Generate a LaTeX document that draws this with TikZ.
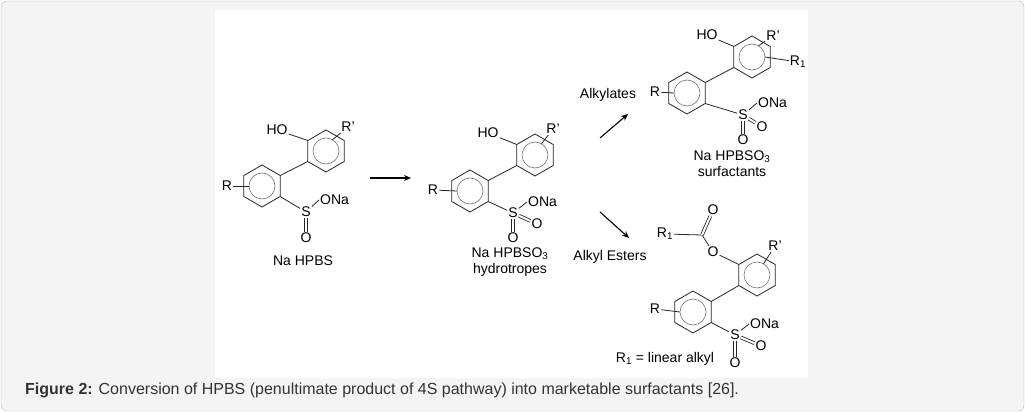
\documentclass[tikz,border=0pt]{standalone}
\usepackage{fontspec}
\setmainfont{Liberation Sans}
\usetikzlibrary{calc}
\usetikzlibrary{positioning}
\usetikzlibrary{arrows.meta}

\tikzset{
  bond/.style={line width=0.8pt, black!85},
  dbl/.style={bond, double, double distance=2pt},
  aromatic/.style={line width=0.6pt, black!55},
  atom/.style={inner sep=1pt, font=\fontsize{14}{16}\selectfont},
  lbl/.style={inner sep=0pt, font=\fontsize{14}{16}\selectfont, align=center},
  reaction/.style={-{Stealth[length=7pt,width=6pt]}, line width=1.1pt},
  ring/.pic={
    \draw[bond] (30:21) -- (90:21) -- (150:21) -- (210:21) -- (270:21) -- (330:21) -- cycle;
    \draw[aromatic] (0,0) circle (13);
    \foreach \a in {30,90,150,210,270,330} \coordinate (-v\a) at (\a:21);
    \foreach \a in {0,60,180} \coordinate (-c\a) at (\a:13);
  }
}

\begin{document}
\begin{tikzpicture}[x=1pt, y=1pt]
    \useasboundingbox (0,0) rectangle (1025,-412);
    % frame
    \draw[gray!55, fill=gray!9, rounded corners=6pt] (1,-1) rectangle (1024,-411);
    \fill[white] (215,-10) rectangle (808,-378);

    % Na HPBS
    \pic (l1) at (262,-186) {ring};
    \pic (u1) at (326,-151) {ring};
    \draw[bond] (l1-v30) -- (u1-v210);
    \node[atom] (ho1) at (277,-130) {HO};
    \node[atom] (rp1) at (348,-127) {R'};
    \node[atom] (r1) at (227,-186) {R};
    \node[atom] (s1) at (306,-212) {S};
    \node[atom, anchor=west] (ona1) at (319,-200) {ONa};
    \node[atom] (od1) at (306,-238) {O};
    \draw[bond] (u1-v150) -- (ho1);
    \draw[bond] (u1-c60) -- (rp1);
    \draw[bond] (l1-c180) -- (r1);
    \draw[bond] (l1-v330) -- (s1);
    \draw[bond] (s1) -- (ona1.west);
    \draw[dbl] (s1) -- (od1);
    \node[lbl] (name1) at (303,-261) {Na HPBS};

    % Na HPBSO3 hydrotropes
    \pic (l2) at (470,-191) {ring};
    \pic (u2) at (535,-155) {ring};
    \draw[bond] (l2-v30) -- (u2-v210);
    \node[atom] (ho2) at (488,-133) {HO};
    \node[atom] (rp2) at (553,-129) {R'};
    \node[atom] (r2) at (433,-190) {R};
    \node[atom] (s2) at (513,-213) {S};
    \node[atom, anchor=west] (ona2) at (527,-202) {ONa};
    \node[atom] (or2) at (537,-224) {O};
    \node[atom] (od2) at (513,-238) {O};
    \draw[bond] (u2-v150) -- (ho2);
    \draw[bond] (u2-c60) -- (rp2);
    \draw[bond] (l2-c180) -- (r2);
    \draw[bond] (l2-v330) -- (s2);
    \draw[bond] (s2) -- (ona2.west);
    \draw[dbl] (s2) -- (or2);
    \draw[dbl] (s2) -- (od2);
    \node[lbl] (name2) at (510,-262) {Na HPBSO\textsubscript{3}\\hydrotropes};

    % Na HPBSO3 surfactants
    \pic (l3) at (687,-93) {ring};
    \pic (u3) at (752,-57) {ring};
    \draw[bond] (l3-v30) -- (u3-v210);
    \node[atom] (ho3) at (707,-35) {HO};
    \node[atom] (rp3) at (773,-36) {R'};
    \node[atom] (ra3) at (798,-62) {R\textsubscript{1}};
    \node[atom] (r3) at (655,-92) {R};
    \node[atom] (s3) at (743,-115) {S};
    \node[atom, anchor=west] (ona3) at (757,-103) {ONa};
    \node[atom] (or3) at (762,-127) {O};
    \node[atom] (od3) at (743,-140) {O};
    \draw[bond] (u3-v150) -- (ho3);
    \draw[bond] (u3-c60) -- (rp3);
    \draw[bond] (u3-c0) -- (ra3);
    \draw[bond] (l3-c180) -- (r3);
    \draw[bond] (l3-v330) -- (s3);
    \draw[bond] (s3) -- (ona3.west);
    \draw[dbl] (s3) -- (or3);
    \draw[dbl] (s3) -- (od3);
    \node[lbl] (name3) at (732,-164) {Na HPBSO\textsubscript{3}\\surfactants};

    % alkyl ester
    \pic (l4) at (693,-312) {ring};
    \pic (u4) at (757,-275) {ring};
    \draw[bond] (l4-v30) -- (u4-v210);
    \node[atom] (oe4) at (713,-252) {O};
    \coordinate (c4) at (702,-235);
    \node[atom] (ok4) at (713,-210) {O};
    \node[atom] (ra4) at (665,-234) {R\textsubscript{1}};
    \node[atom] (rp4) at (775,-246) {R'};
    \node[atom] (r4) at (655,-309) {R};
    \node[atom] (s4) at (735,-335) {S};
    \node[atom, anchor=west] (ona4) at (749,-324) {ONa};
    \node[atom] (or4) at (761,-346) {O};
    \node[atom] (od4) at (735,-363) {O};
    \draw[bond] (u4-v150) -- (oe4);
    \draw[bond] (oe4) -- (c4) -- (ra4);
    \draw[dbl] (c4) -- (ok4);
    \draw[bond] (u4-c60) -- (rp4);
    \draw[bond] (l4-c180) -- (r4);
    \draw[bond] (l4-v330) -- (s4);
    \draw[bond] (s4) -- (ona4.west);
    \draw[dbl] (s4) -- (or4);
    \draw[dbl] (s4) -- (od4);
    \node[lbl] (note4) at (665,-359) {R\textsubscript{1} = linear alkyl};

    % reaction arrows
    \coordinate (a0) at (370,-178);
    \coordinate (a1) at (411,-178);
    \draw[reaction] (a0) -- (a1);
    \coordinate (b0) at (600,-138);
    \coordinate (b1) at (628,-114);
    \draw[reaction] (b0) -- (b1);
    \node[lbl] (alk) at (608,-95) {Alkylates};
    \coordinate (e0) at (600,-212);
    \coordinate (e1) at (629,-238);
    \draw[reaction] (e0) -- (e1);
    \node[lbl] (est) at (610,-257) {Alkyl Esters};

    % caption
    \node[anchor=west, inner sep=0pt, text=black!80, font=\fontsize{16}{18}\selectfont] (cap) at (25,-390)
      {\textbf{Figure 2:} Conversion of HPBS (penultimate product of 4S pathway) into marketable surfactants [26].};
\end{tikzpicture}
\end{document}
